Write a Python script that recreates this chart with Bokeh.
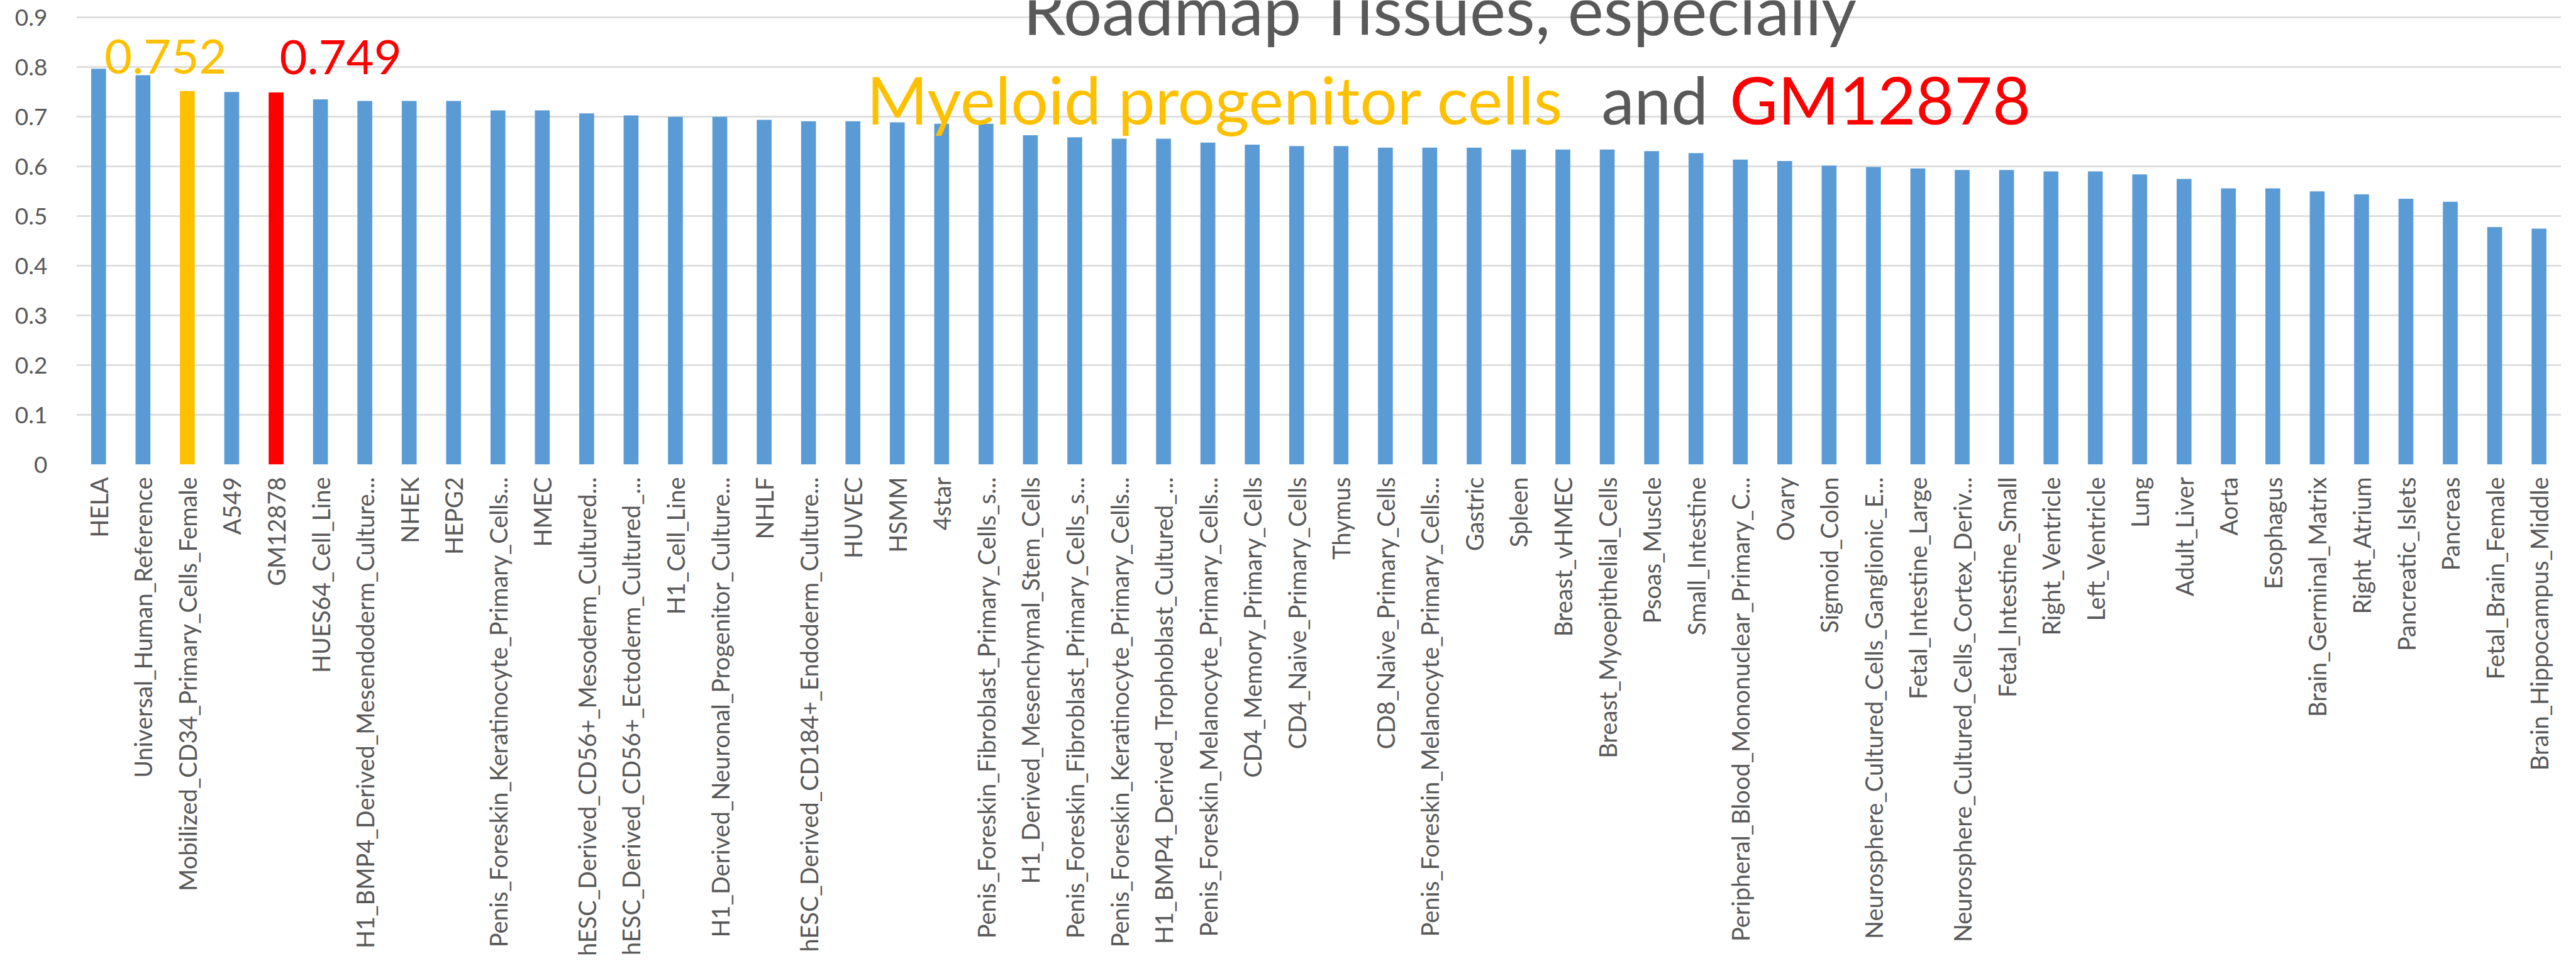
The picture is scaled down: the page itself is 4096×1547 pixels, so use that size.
import math
from bokeh.plotting import figure
from bokeh.models import Range1d, FixedTicker, NumeralTickFormatter, Label, ColumnDataSource
from bokeh.embed import file_html
from bokeh.resources import INLINE

categories = [
    "HELA", "Universal_Human_Reference", "Mobilized_CD34_Primary_Cells_Female", "A549", "GM12878",
    "HUES64_Cell_Line", "H1_BMP4_Derived_Mesendoderm_Culture...", "NHEK", "HEPG2",
    "Penis_Foreskin_Keratinocyte_Primary_Cells...", "HMEC", "hESC_Derived_CD56+_Mesoderm_Cultured...",
    "hESC_Derived_CD56+_Ectoderm_Cultured_...", "H1_Cell_Line", "H1_Derived_Neuronal_Progenitor_Culture...",
    "NHLF", "hESC_Derived_CD184+_Endoderm_Culture...", "HUVEC", "HSMM", "4star",
    "Penis_Foreskin_Fibroblast_Primary_Cells_s...", "H1_Derived_Mesenchymal_Stem_Cells",
    "Penis_Foreskin_Fibroblast_Primary_Cells_s...", "Penis_Foreskin_Keratinocyte_Primary_Cells...",
    "H1_BMP4_Derived_Trophoblast_Cultured_...", "Penis_Foreskin_Melanocyte_Primary_Cells...",
    "CD4_Memory_Primary_Cells", "CD4_Naive_Primary_Cells", "Thymus", "CD8_Naive_Primary_Cells",
    "Penis_Foreskin_Melanocyte_Primary_Cells...", "Gastric", "Spleen", "Breast_vHMEC",
    "Breast_Myoepithelial_Cells", "Psoas_Muscle", "Small_Intestine",
    "Peripheral_Blood_Mononuclear_Primary_C...", "Ovary", "Sigmoid_Colon",
    "Neurosphere_Cultured_Cells_Ganglionic_E...", "Fetal_Intestine_Large",
    "Neurosphere_Cultured_Cells_Cortex_Deriv...", "Fetal_Intestine_Small", "Right_Ventricle",
    "Left_Ventricle", "Lung", "Adult_Liver", "Aorta", "Esophagus", "Brain_Germinal_Matrix",
    "Right_Atrium", "Pancreatic_Islets", "Pancreas", "Fetal_Brain_Female", "Brain_Hippocampus_Middle",
]

values = [
    0.797, 0.784, 0.752, 0.750, 0.749,
    0.735, 0.732, 0.732, 0.732,
    0.713, 0.713, 0.707,
    0.703, 0.700, 0.700,
    0.694, 0.691, 0.691, 0.689, 0.686,
    0.686, 0.663,
    0.659, 0.656,
    0.656, 0.648,
    0.644, 0.641, 0.641, 0.638,
    0.638, 0.638, 0.634, 0.634,
    0.634, 0.631, 0.627,
    0.614, 0.611, 0.602,
    0.599, 0.596,
    0.593, 0.593, 0.590,
    0.590, 0.584, 0.575, 0.556, 0.556, 0.550,
    0.544, 0.535, 0.529, 0.478, 0.475,
]

y_ticks = [0, 0.1, 0.2, 0.3, 0.4, 0.5, 0.6, 0.7, 0.8, 0.9]

yellow_name = "Mobilized_CD34_Primary_Cells_Female"
red_name = "GM12878"
title_line1 = "Roadmap Tissues, especially"
title_part_a = "Myeloid progenitor cells"
title_part_b = "and"
title_part_c = "GM12878"

BLUE, YELLOW, RED, GREY, GRID = "#5B9BD5", "#FFC000", "#FF0000", "#595959", "#D9D9D9"
FONT = "Lato"

idx = list(range(len(categories)))
colors = [YELLOW if c == yellow_name else RED if c == red_name else BLUE for c in categories]
src = ColumnDataSource(dict(x=idx, top=values, color=colors))

W, H = 4096, 1547
p = figure(width=W, height=H, output_backend="svg", toolbar_location=None, title=None,
           x_range=Range1d(-0.5, len(categories) - 0.5), y_range=Range1d(0, 0.9346),
           min_border_left=121, min_border_right=24, min_border_top=0, min_border_bottom=809)
p.outline_line_color = None
p.background_fill_color = "white"
p.border_fill_color = "white"

p.vbar(x="x", top="top", width=0.335, fill_color="color", line_color=None, source=src)

# grid
p.xgrid.grid_line_color = None
p.ygrid.grid_line_color = GRID
p.ygrid.grid_line_width = 2.7
p.ygrid.ticker = FixedTicker(ticks=y_ticks)

# y axis
p.yaxis.ticker = FixedTicker(ticks=y_ticks)
p.yaxis.formatter = NumeralTickFormatter(format="0.[0]")
p.yaxis.axis_line_color = None
p.yaxis.major_tick_line_color = None
p.yaxis.minor_tick_line_color = None
p.yaxis.major_tick_out = 0
p.yaxis.major_tick_in = 0
p.yaxis.major_label_standoff = 46
p.yaxis.major_label_text_font = FONT
p.yaxis.major_label_text_font_size = "37px"
p.yaxis.major_label_text_color = GREY

# x axis
p.xaxis.ticker = FixedTicker(ticks=idx)
p.xaxis.major_label_overrides = {i: c for i, c in zip(idx, categories)}
p.xaxis.major_label_orientation = math.pi / 2
p.xaxis.axis_line_color = None
p.xaxis.major_tick_line_color = None
p.xaxis.minor_tick_line_color = None
p.xaxis.major_tick_out = 0
p.xaxis.major_tick_in = 0
p.xaxis.major_label_standoff = 20
p.xaxis.major_label_text_font = FONT
p.xaxis.major_label_text_font_size = "38px"
p.xaxis.major_label_text_color = GREY

# value annotations for the highlighted bars
iy = categories.index(yellow_name)
ir = categories.index(red_name)
p.add_layout(Label(x=iy - 1.868, y=0.8217, text=f"{values[iy]:.3f}", text_color=YELLOW,
                   text_font=FONT, text_font_size="76px", text_align="left",
                   text_baseline="alphabetic"))
p.add_layout(Label(x=ir + 0.078, y=0.8194, text=f"{values[ir]:.3f}", text_color=RED,
                   text_font=FONT, text_font_size="76px", text_align="left",
                   text_baseline="alphabetic"))

# title (two lines, second in three colours)
p.add_layout(Label(x=30.25, y=0.918, text=title_line1, text_color=GREY, text_font=FONT,
                   text_font_size="108px", text_align="center", text_baseline="alphabetic"))
T2 = "105px"
p.add_layout(Label(x=17.31, y=0.737, text=title_part_a, text_color=YELLOW, text_font=FONT,
                   text_font_size=T2, text_align="left", text_baseline="alphabetic"))
p.add_layout(Label(x=33.87, y=0.737, text=title_part_b, text_color=GREY, text_font=FONT,
                   text_font_size=T2, text_align="left", text_baseline="alphabetic"))
p.add_layout(Label(x=36.76, y=0.737, text=title_part_c, text_color=RED, text_font=FONT,
                   text_font_size=T2, text_align="left", text_baseline="alphabetic"))

open("out.html", "w").write(file_html(p, INLINE))
